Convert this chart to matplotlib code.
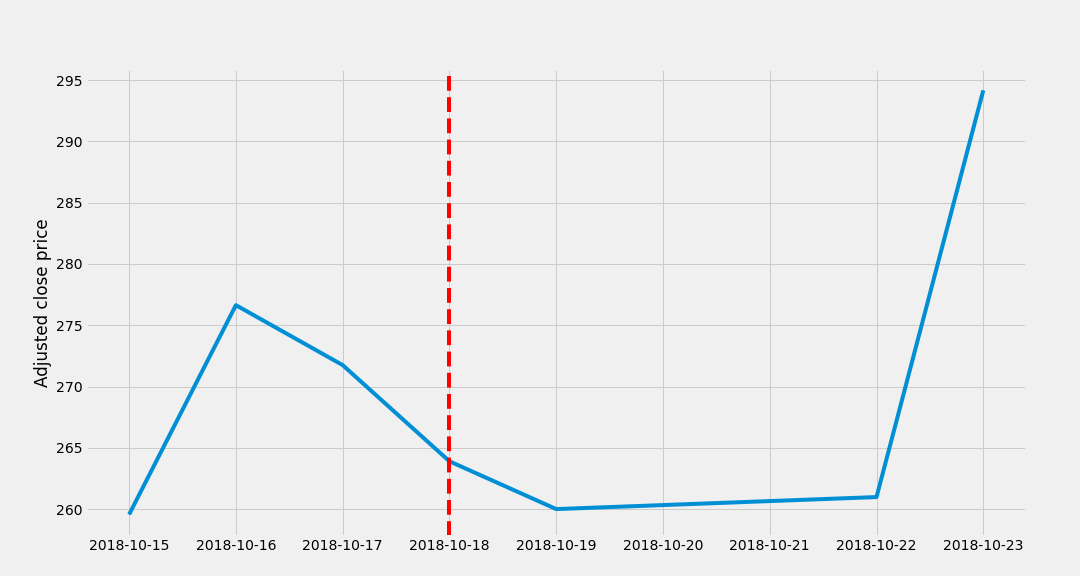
import pandas as pd
import matplotlib
matplotlib.use('Agg')
import matplotlib.pyplot as plt

dates = ['2018-10-15', '2018-10-16', '2018-10-17', '2018-10-18',
         '2018-10-19', '2018-10-22', '2018-10-23']
adj_close = [259.56, 276.64, 271.75, 263.9, 260.0, 260.98, 294.17]
event_date = '2018-10-18'
tick_dates = pd.date_range('2018-10-15', '2018-10-23', freq='D')

plt.style.use('fivethirtyeight')

fig, ax = plt.subplots(figsize=(15, 8), dpi=72)
ax.plot(pd.to_datetime(dates), adj_close)
ax.axvline(pd.to_datetime(event_date), color='red', linestyle='--')
ax.set_xticks(tick_dates)
ax.set_xticklabels([d.strftime('%Y-%m-%d') for d in tick_dates])
ax.set_ylabel('Adjusted close price')

fig.savefig('out.png', dpi=72)
